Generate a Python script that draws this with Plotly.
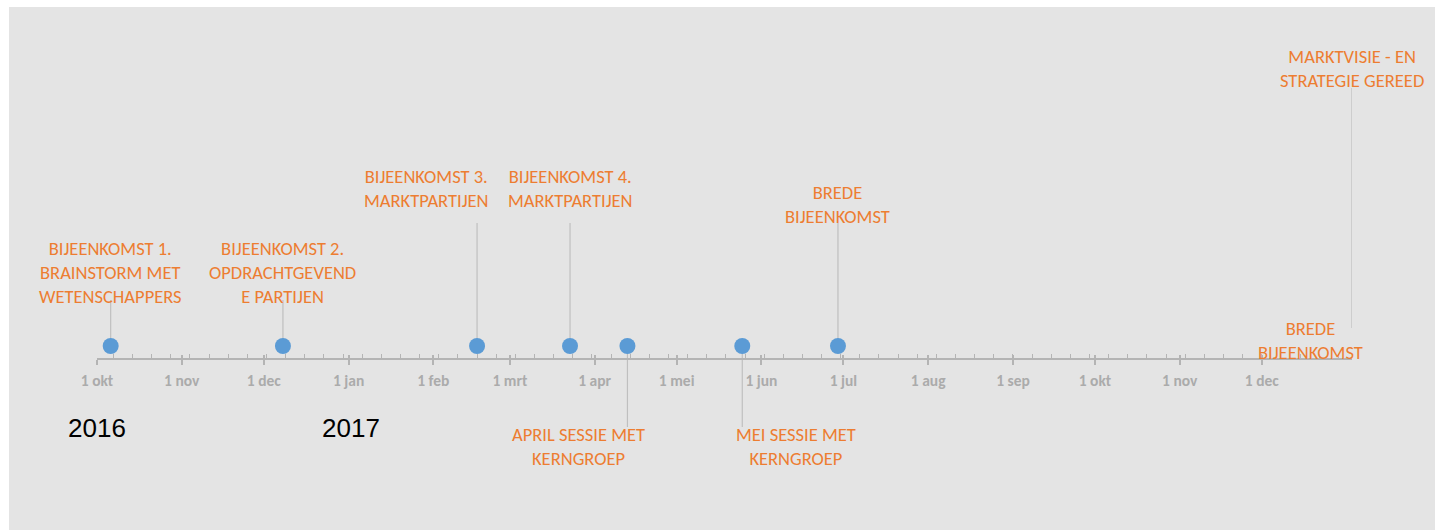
import plotly.graph_objects as go
import pandas as pd

# ---------------- data ----------------
milestone_dates = ["2016-10-06", "2016-12-08", "2017-02-17", "2017-03-23",
                   "2017-04-13", "2017-05-25", "2017-06-29"]
milestone_heights = [4.6, 4.6, 12.3, 12.3, -8.1, -8.1, 12.3]
milestone_labels = [
    "BIJEENKOMST 1.<br>BRAINSTORM MET<br>WETENSCHAPPERS",
    "BIJEENKOMST 2.<br>OPDRACHTGEVEND<br>E PARTIJEN",
    "BIJEENKOMST 3.<br>MARKTPARTIJEN",
    "BIJEENKOMST 4.<br>MARKTPARTIJEN",
    "APRIL SESSIE MET<br>KERNGROEP",
    "MEI SESSIE MET<br>KERNGROEP",
    "BREDE<br>BIJEENKOMST",
]
label_levels = [7.35, 7.35, 15.75, 15.8, -10.05, -10.05, 14.2]

final_date = "2018-01-03"
final_stem = [1.8, 25.8]
final_label = "MARKTVISIE - EN<br>STRATEGIE GEREED"
final_level = 27.75

extra_date = "2017-12-19"
extra_label = "BREDE<br>BIJEENKOMST"
extra_level = 0.55

month_ticks = list(pd.date_range("2016-10-01", "2017-12-01", freq="MS").strftime("%Y-%m-%d"))
month_text = ["1 okt", "1 nov", "1 dec", "1 jan", "1 feb", "1 mrt", "1 apr", "1 mei",
              "1 jun", "1 jul", "1 aug", "1 sep", "1 okt", "1 nov", "1 dec"]

year_labels = ["2016", "2017"]
year_dates = ["2016-10-01", "2017-01-02"]
year_level = -8.2

axis_range = ["2016-10-01", "2018-01-03"]

# ---------------- styling ----------------
W, H = 1435, 530
ORANGE = "#ED7D31"
BLUE = "#5B9BD5"
STEM = "#BFBFBF"
AXIS = "#B4B4B4"
LABEL_FONT = "Carlito, Lato, sans-serif"
LABEL_SIZE = 18.5
label_xshift = [0, 0, -51, 0, -49, 54, 0]

fig = go.Figure()

# stems
sx, sy = [], []
for d, h in zip(milestone_dates, milestone_heights):
    sx += [d, d, None]
    sy += [0, h, None]
sx += [final_date, final_date, None]
sy += [final_stem[0], final_stem[1], None]
fig.add_trace(go.Scatter(x=sx, y=sy, mode="lines", line=dict(color=STEM, width=1.2),
                         hoverinfo="skip", showlegend=False, cliponaxis=False))

# markers
fig.add_trace(go.Scatter(x=milestone_dates, y=[0] * len(milestone_dates), mode="markers",
                         marker=dict(color=BLUE, size=16, line=dict(width=0)),
                         showlegend=False, cliponaxis=False))

# invisible trace for overlay axis
fig.add_trace(go.Scatter(x=axis_range, y=[0, 0], mode="markers", marker=dict(opacity=0),
                         xaxis="x2", yaxis="y", showlegend=False, hoverinfo="skip"))

lab_font = dict(family=LABEL_FONT, size=LABEL_SIZE, color=ORANGE)
annotations = []
for d, lab, lv, xs in zip(milestone_dates, milestone_labels, label_levels, label_xshift):
    annotations.append(dict(x=d, y=lv, xref="x", yref="y", text=lab, showarrow=False,
                            xanchor="center", yanchor="middle", xshift=xs, align="center",
                            font=lab_font))
annotations.append(dict(x=final_date, y=final_level, xref="x", yref="y", text=final_label,
                        showarrow=False, xanchor="center", yanchor="middle", align="center",
                        font=lab_font))
annotations.append(dict(x=extra_date, y=extra_level, xref="x", yref="y", text=extra_label,
                        showarrow=False, xanchor="center", yanchor="middle", align="center",
                        font=lab_font))
for d, t in zip(year_dates, year_labels):
    annotations.append(dict(x=d, y=year_level, xref="x", yref="y", text=t, showarrow=False,
                            xanchor="center", yanchor="middle",
                            font=dict(family="Liberation Sans, Arial, sans-serif", size=26,
                                      color="#000000")))

axis_pos = 1 - 359 / H
dom = [97 / W, 1352 / W]

fig.update_layout(
    width=W, height=H,
    autosize=False,
    margin=dict(l=0, r=0, t=0, b=0, pad=0, autoexpand=False),
    paper_bgcolor="white",
    plot_bgcolor="rgba(0,0,0,0)",
    showlegend=False,
    shapes=[dict(type="rect", xref="paper", yref="paper", x0=9 / W, x1=1, y0=0, y1=1 - 7 / H,
                 fillcolor="#E4E4E4", line=dict(width=0), layer="below")],
    annotations=annotations,
    xaxis=dict(type="date", range=axis_range, domain=dom, anchor="free", position=axis_pos,
               showline=True, linecolor=AXIS, linewidth=1.5, showgrid=False, zeroline=False,
               ticks="outside", ticklen=5, tickwidth=1.5, tickcolor=AXIS,
               tickvals=month_ticks, ticktext=month_text, ticklabelstandoff=3,
               tickfont=dict(family=LABEL_FONT, size=15.5, color="#ABABAB", weight="bold"),
               minor=dict(ticks="inside", ticklen=4, tickwidth=1, tickcolor=AXIS,
                          dtick=7 * 86400000, tick0="2016-10-07", showgrid=False)),
    xaxis2=dict(type="date", overlaying="x", matches="x", domain=dom, anchor="free",
                position=axis_pos, showline=False, showgrid=False, zeroline=False,
                ticks="inside", ticklen=4, tickwidth=1.5, tickcolor=AXIS,
                tickvals=month_ticks, showticklabels=False),
    yaxis=dict(range=[-18.4, 34.6], domain=[0, 1], visible=False, fixedrange=True),
)

fig.write_html(
    "out.html",
    config={"responsive": False, "displayModeBar": False},
    post_script="document.body.style.margin='0';document.body.style.overflow='hidden';",
)
